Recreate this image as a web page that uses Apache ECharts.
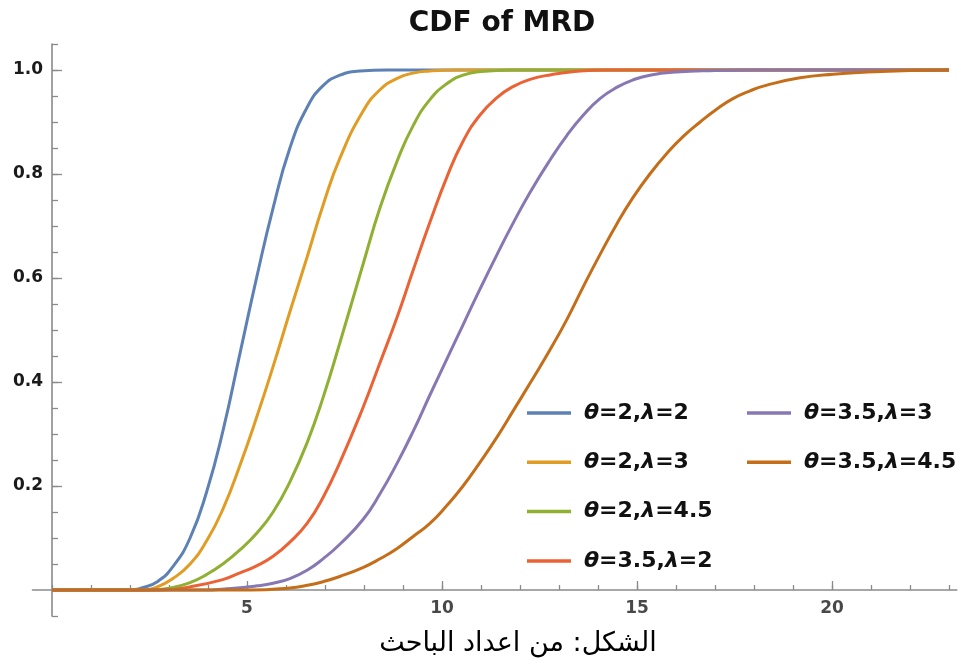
<!DOCTYPE html>
<html>
<head>
<meta charset="utf-8">
<script src="https://cdn.jsdelivr.net/npm/echarts@6/dist/echarts.min.js"></script>
<style>
  html, body { margin: 0; padding: 0; background: #fff; }
  #chart { width: 961px; height: 668px; }
</style>
</head>
<body>
<div id="chart"></div>
<script>
// Series labels and colours
const seriesNames = ['θ=2,λ=2', 'θ=2,λ=3', 'θ=2,λ=4.5', 'θ=3.5,λ=2', 'θ=3.5,λ=3', 'θ=3.5,λ=4.5'];
const seriesColors = ['#5E81B5', '#E19C24', '#8FB032', '#EB6235', '#8778B3', '#C56E1A'];

// CDF samples for each parameter pair (x, F(x))
const t2l2X = [0, 2.0, 2.3, 2.7, 3.1, 3.54, 3.97, 4.38, 4.82, 5.26, 5.67, 6.1, 6.54, 6.95, 7.38, 7.9, 8.6, 23];
const t2l2Y = [0, 0, 0.004, 0.016, 0.045, 0.1, 0.19, 0.305, 0.455, 0.605, 0.735, 0.85, 0.928, 0.97, 0.99, 0.998, 1.0, 1.0];

const t2l3X = [0, 2.3, 2.7, 3.1, 3.54, 3.97, 4.38, 4.82, 5.26, 5.67, 6.1, 6.54, 6.95, 7.38, 7.97, 8.41, 8.85, 9.26, 9.69, 10.4, 23];
const t2l3Y = [0, 0, 0.006, 0.022, 0.05, 0.095, 0.155, 0.24, 0.335, 0.43, 0.535, 0.64, 0.74, 0.83, 0.92, 0.962, 0.984, 0.994, 0.998, 1.0, 1.0];

const t2l45X = [0, 2.5, 3.1, 3.54, 3.97, 4.38, 4.82, 5.26, 5.67, 6.1, 6.54, 6.95, 7.38, 7.97, 8.41, 8.85, 9.26, 9.69, 10.13, 10.54, 11.0, 11.8, 23];
const t2l45Y = [0, 0, 0.005, 0.014, 0.03, 0.05, 0.077, 0.11, 0.15, 0.208, 0.283, 0.37, 0.475, 0.625, 0.735, 0.825, 0.893, 0.943, 0.974, 0.99, 0.997, 1.0, 1.0];

const t35l2X = [0, 2.77, 3.54, 4.38, 4.82, 5.26, 5.67, 6.1, 6.54, 6.95, 7.38, 7.97, 8.41, 8.85, 9.26, 9.69, 10.13, 10.54, 10.97, 11.41, 11.82, 12.26, 12.8, 13.4, 14.2, 23];
const t35l2Y = [0, 0, 0.006, 0.02, 0.033, 0.047, 0.065, 0.092, 0.128, 0.178, 0.245, 0.35, 0.437, 0.525, 0.615, 0.707, 0.795, 0.863, 0.913, 0.947, 0.968, 0.982, 0.991, 0.997, 1.0, 1.0];

const t35l3X = [0, 3.8, 4.6, 5.26, 5.67, 6.1, 6.54, 6.95, 7.38, 7.97, 8.41, 8.85, 9.26, 9.69, 10.13, 10.54, 10.97, 11.41, 11.82, 12.26, 12.77, 13.2, 13.62, 14.05, 14.49, 14.9, 15.33, 16.0, 17.0, 18.0, 23];
const t35l3Y = [0, 0, 0.003, 0.008, 0.013, 0.022, 0.038, 0.06, 0.088, 0.135, 0.185, 0.244, 0.305, 0.375, 0.445, 0.51, 0.578, 0.645, 0.705, 0.765, 0.827, 0.874, 0.913, 0.945, 0.967, 0.981, 0.99, 0.996, 0.999, 1.0, 1.0];

const t35l45X = [0, 5.08, 6.1, 6.54, 6.95, 7.38, 7.97, 8.41, 8.85, 9.26, 9.69, 10.13, 10.54, 10.97, 11.41, 11.82, 12.26, 12.77, 13.2, 13.62, 14.05, 14.49, 14.9, 15.33, 15.77, 16.18, 16.62, 17.05, 17.46, 17.9, 18.33, 19.18, 20.03, 20.9, 22.0, 23];
const t35l45Y = [0, 0, 0.004, 0.009, 0.016, 0.026, 0.043, 0.06, 0.08, 0.103, 0.128, 0.163, 0.2, 0.245, 0.294, 0.344, 0.398, 0.462, 0.52, 0.583, 0.645, 0.705, 0.755, 0.8, 0.84, 0.872, 0.9, 0.925, 0.945, 0.96, 0.971, 0.985, 0.992, 0.996, 0.999, 1.0];

const seriesX = [t2l2X, t2l3X, t2l45X, t35l2X, t35l3X, t35l45X];
const seriesY = [t2l2Y, t2l3Y, t2l45Y, t35l2Y, t35l3Y, t35l45Y];

// Axis ticks and labels
const xMinorTicks = [0, 1, 2, 3, 4, 5, 6, 7, 8, 9, 10, 11, 12, 13, 14, 15, 16, 17, 18, 19, 20, 21, 22, 23];
const xMajorTicks = [5, 10, 15, 20];
const yMinorTicks = [-0.05, 0, 0.05, 0.1, 0.15, 0.2, 0.25, 0.3, 0.35, 0.4, 0.45, 0.5, 0.55, 0.6, 0.65, 0.7, 0.75, 0.8, 0.85, 0.9, 0.95, 1.0, 1.05];
const yMajorTicks = [0.2, 0.4, 0.6, 0.8, 1.0];

const axisGray = '#8a8a8a';
const labelFont = { fontFamily: 'DejaVu Sans', fontWeight: 'bold', fontSize: 17, color: '#1a1a1a' };

function richName(name) {
  return name.split(/([θλ])/).filter(s => s).map(s => /[θλ]/.test(s) ? '{g|' + s + '}' : '{n|' + s + '}').join('');
}

const legendText = {
  padding: [0, 0, 0, 8],
  lineHeight: 26,
  rich: {
    g: { fontFamily: 'DejaVu Sans', fontStyle: 'italic', fontWeight: 'bold', fontSize: 22, color: '#111' },
    n: { fontFamily: 'DejaVu Sans', fontWeight: 'bold', fontSize: 22, color: '#111' }
  }
};

function legendBlock(names, left) {
  return {
    data: names, orient: 'vertical', left: left, top: 400,
    icon: 'rect', itemWidth: 44, itemHeight: 3.5, itemGap: 23.3,
    selectedMode: false, padding: 0,
    formatter: richName, textStyle: legendText
  };
}

const curveSeries = seriesNames.map((name, i) => ({
  name: name,
  type: 'line',
  xAxisIndex: 0,
  yAxisIndex: 0,
  smooth: 0.5,
  showSymbol: false,
  color: seriesColors[i],
  lineStyle: { width: 3, color: seriesColors[i] },
  data: seriesX[i].map((x, k) => [x, seriesY[i][k]])
}));

// Horizontal-axis numbers, hung just under the zero line
const xLabelSeries = {
  type: 'scatter',
  silent: true,
  symbolSize: 0,
  xAxisIndex: 0,
  yAxisIndex: 0,
  z: 5,
  data: xMajorTicks.map(v => [v, 0]),
  label: { show: true, position: 'bottom', distance: 10, formatter: p => String(p.value[0]), ...labelFont }
};

const chart = echarts.init(document.getElementById('chart'), null, { renderer: 'canvas' });
chart.setOption({
  animation: false,
  backgroundColor: '#fff',
  title: [
    { text: 'CDF of MRD', left: 497, top: 5, textAlign: 'center',
      textStyle: { fontFamily: 'DejaVu Sans', fontWeight: 'bold', fontSize: 28, color: '#111' } },
    { text: 'الشكل: من اعداد الباحث', left: 513, top: 625, textAlign: 'center',
      textStyle: { fontFamily: 'DejaVu Sans', fontWeight: 'normal', fontSize: 27, color: '#000' } }
  ],
  legend: [legendBlock(seriesNames.slice(0, 4), 527), legendBlock(seriesNames.slice(4), 747)],
  grid: { left: 32.5, right: 4.2, top: 44, bottom: 52, containLabel: false, outerBoundsMode: 'none' },
  xAxis: [
    { type: 'value', min: -0.5, max: 23.2, splitLine: { show: false },
      axisLine: { onZero: true, lineStyle: { color: axisGray, width: 1.6 } },
      axisTick: { inside: true, length: 5, customValues: xMinorTicks, lineStyle: { color: axisGray, width: 1.3 } },
      axisLabel: { show: false } },
    { type: 'value', min: -0.5, max: 23.2, position: 'bottom', splitLine: { show: false },
      axisLine: { show: false, onZero: true },
      axisTick: { inside: true, length: 9, customValues: xMajorTicks, lineStyle: { color: axisGray, width: 1.3 } },
      axisLabel: { show: false } }
  ],
  yAxis: [
    { type: 'value', min: -0.05, max: 1.05, position: 'left', splitLine: { show: false },
      axisLine: { onZero: true, lineStyle: { color: axisGray, width: 1.6 } },
      axisTick: { inside: true, length: 6, customValues: yMinorTicks, lineStyle: { color: axisGray, width: 1.3 } },
      axisLabel: { customValues: yMajorTicks, margin: -10.5, formatter: v => v.toFixed(1), ...labelFont } },
    { type: 'value', min: -0.05, max: 1.05, position: 'left', splitLine: { show: false },
      axisLine: { show: false, onZero: true },
      axisTick: { inside: true, length: 10, customValues: yMajorTicks, lineStyle: { color: axisGray, width: 1.3 } },
      axisLabel: { show: false } }
  ],
  series: curveSeries.concat([xLabelSeries])
});
</script>
</body>
</html>
